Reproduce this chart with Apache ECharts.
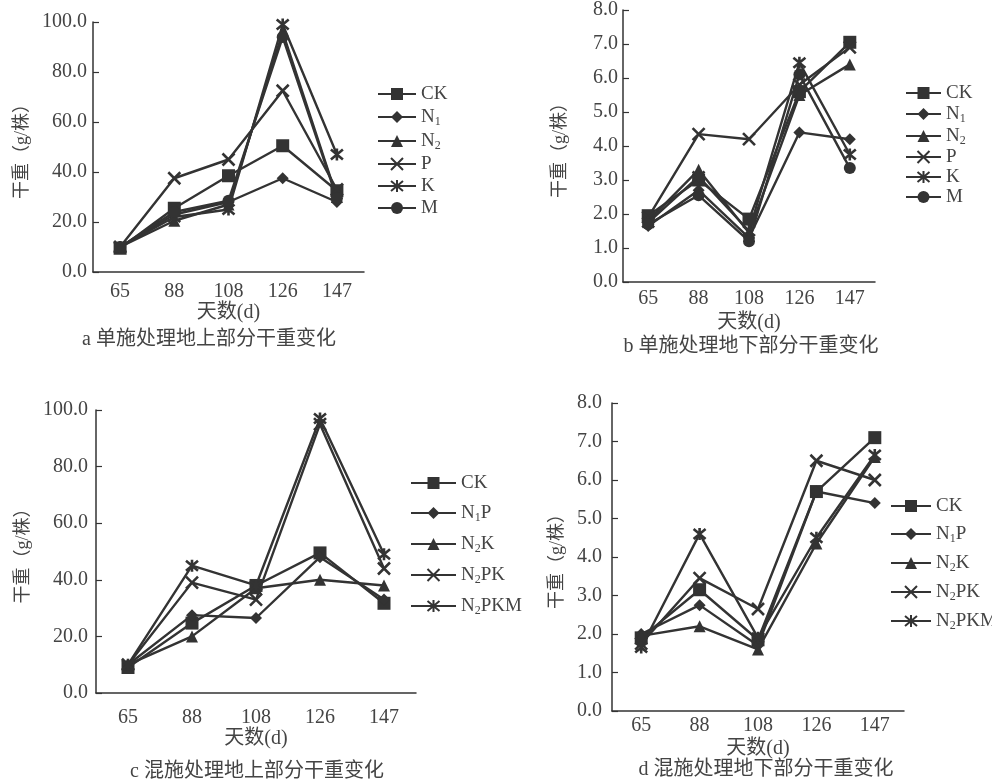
<!DOCTYPE html>
<html><head><meta charset="utf-8">
<script src="https://cdn.jsdelivr.net/npm/echarts@6/dist/echarts.min.js"></script>
<style>html,body{margin:0;padding:0;background:#fff}#c{width:992px;height:781px}</style>
</head><body><div id="c"></div>
<script>
// ---- data ----
const days = ['65', '88', '108', '126', '147'];
const singleNames = ['CK', 'N1', 'N2', 'P', 'K', 'M'];
const mixNames = ['CK', 'N1P', 'N2K', 'N2PK', 'N2PKM'];

// a: single treatment, above-ground dry weight (g/plant)
const aCK = [9.5, 25.5, 38.5, 50.5, 32.5];
const aN1 = [10, 23, 28, 37.5, 28];
const aN2 = [10, 20.5, 27, 96, 30];
const aP  = [10, 37.5, 45, 72.5, 33];
const aK  = [10, 22, 25, 99, 47];
const aM  = [10, 24, 28.5, 94, 29.5];

// b: single treatment, below-ground dry weight
const bCK = [1.95, 3.0, 1.85, 5.6, 7.05];
const bN1 = [1.65, 2.7, 1.3, 4.4, 4.2];
const bN2 = [1.8, 3.3, 1.45, 5.5, 6.4];
const bP  = [1.9, 4.35, 4.2, 5.8, 6.9];
const bK  = [1.75, 3.1, 1.5, 6.45, 3.75];
const bM  = [1.7, 2.55, 1.2, 6.1, 3.35];

// c: mixed treatment, above-ground dry weight
const cCK    = [9, 24.7, 38, 49.5, 31.7];
const cN1P   = [10, 27.5, 26.5, 48, 33];
const cN2K   = [10, 20, 37, 40, 38];
const cN2PK  = [10, 39, 33, 95, 44];
const cN2PKM = [10, 45, 38, 97, 49];

// d: mixed treatment, below-ground dry weight
const dCK    = [1.9, 3.15, 1.85, 5.7, 7.1];
const dN1P   = [2.0, 2.75, 1.7, 5.7, 5.4];
const dN2K   = [1.95, 2.2, 1.6, 4.35, 6.6];
const dN2PK  = [1.75, 3.45, 2.65, 6.5, 6.0];
const dN2PKM = [1.65, 4.6, 1.9, 4.5, 6.65];

const xName = '天数(d)';
const yName = '干重（g/株）';
const captions = ['a 单施处理地上部分干重变化', 'b 单施处理地下部分干重变化',
                  'c 混施处理地上部分干重变化', 'd 混施处理地下部分干重变化'];

// ---- styles ----
const INK = '#333333';
const TXT = '#444444';
const SERIF = 'Liberation Serif, Noto Sans CJK SC, serif';

const XPATH = 'path://M0,0L10,10M10,0L0,10';
const STARPATH = 'path://M0,0L10,10M10,0L0,10M5,-1L5,11';
const markerOf = {
  'CK':   {symbol: 'rect', size: 13},
  'N1':   {symbol: 'diamond', size: 12},
  'N1P':  {symbol: 'diamond', size: 12},
  'N2':   {symbol: 'triangle', size: 12},
  'N2K':  {symbol: 'triangle', size: 12},
  'P':    {symbol: XPATH, size: 12, stroke: true},
  'N2PK': {symbol: XPATH, size: 12, stroke: true},
  'K':    {symbol: STARPATH, size: 12, stroke: true},
  'N2PKM':{symbol: STARPATH, size: 12, stroke: true},
  'M':    {symbol: 'circle', size: 12}
};

const panels = [
  {names: singleNames, data: [aCK, aN1, aN2, aP, aK, aM], max: 100, interval: 20,
   grid: {left: 93, top: 22, width: 271, height: 250},
   yNameGap: 62, yLabelMargin: 6, xLabelMargin: 10, xNameGap: 31,
   legend: {left: 372, top: 79, itemWidth: 38, itemGap: 2},
   cap: [209, 340]},
  {names: singleNames, data: [bCK, bN1, bN2, bP, bK, bM], max: 8, interval: 1,
   grid: {left: 623, top: 2, width: 252, height: 280},
   yNameGap: 54, yLabelMargin: 5, xLabelMargin: 7, xNameGap: 31,
   legend: {left: 900, top: 78, itemWidth: 35, itemGap: 0},
   cap: [751, 347]},
  {names: mixNames, data: [cCK, cN1P, cN2K, cN2PK, cN2PKM], max: 100, interval: 20,
   grid: {left: 96, top: 410, width: 320, height: 283},
   yNameGap: 64, yLabelMargin: 8, xLabelMargin: 15, xNameGap: 35,
   legend: {left: 405, top: 468, itemWidth: 45, itemGap: 9},
   cap: [257, 772]},
  {names: mixNames, data: [dCK, dN1P, dN2K, dN2PK, dN2PKM], max: 8, interval: 1,
   grid: {left: 612, top: 403, width: 292, height: 308},
   yNameGap: 46, yLabelMargin: 10, xLabelMargin: 5, xNameGap: 28,
   legend: {left: 885, top: 491, itemWidth: 40, itemGap: 7},
   cap: [766, 770]}
];

function subFmt(name) {
  return name.replace(/(\d)/g, '{s|$1}');
}

const option = {
  backgroundColor: '#fff',
  animation: false,
  grid: [], xAxis: [], yAxis: [], series: [], legend: []
};

panels.forEach((p, i) => {
  option.grid.push(Object.assign({containLabel: false}, p.grid));
  option.xAxis.push({
    type: 'category', gridIndex: i, data: days, boundaryGap: true,
    name: xName, nameLocation: 'middle', nameGap: p.xNameGap,
    nameTextStyle: {fontFamily: SERIF, fontSize: 20, color: TXT},
    axisLine: {lineStyle: {color: INK, width: 1.5}},
    axisTick: {inside: true, length: 6, lineStyle: {color: INK, width: 1.2}},
    axisLabel: {fontFamily: SERIF, fontSize: 20, color: TXT, margin: p.xLabelMargin},
    splitLine: {show: false}
  });
  option.yAxis.push({
    type: 'value', gridIndex: i, min: 0, max: p.max, interval: p.interval,
    name: yName, nameLocation: 'middle', nameRotate: 90, nameGap: p.yNameGap,
    nameTextStyle: {fontFamily: SERIF, fontSize: 18, color: TXT},
    axisLine: {show: true, lineStyle: {color: INK, width: 1.5}},
    axisTick: {show: true, inside: true, length: 6, lineStyle: {color: INK, width: 1.2}},
    axisLabel: {fontFamily: SERIF, fontSize: 20, color: TXT, margin: p.yLabelMargin,
                formatter: v => v.toFixed(1)},
    splitLine: {show: false}
  });
  p.names.forEach((nm, k) => {
    const m = markerOf[nm];
    option.series.push({
      type: 'line', name: nm, xAxisIndex: i, yAxisIndex: i,
      data: p.data[k],
      symbol: m.symbol, symbolSize: m.size, showAllSymbol: true,
      lineStyle: {color: INK, width: 2.4},
      itemStyle: m.stroke ? {color: INK, borderColor: INK, borderWidth: 2.6}
                          : {color: INK, borderColor: INK, borderWidth: 0},
      emphasis: {disabled: true},
      z: 2
    });
  });
  option.legend.push({
    data: p.names, orient: 'vertical', left: p.legend.left, top: p.legend.top,
    itemWidth: p.legend.itemWidth, itemHeight: 15, itemGap: p.legend.itemGap,
    selectedMode: false,
    formatter: subFmt,
    textStyle: {fontFamily: SERIF, fontSize: 19, color: TXT, lineHeight: 20,
      rich: {s: {fontFamily: SERIF, fontSize: 12, color: TXT, verticalAlign: 'bottom', lineHeight: 22}}}
  });
});

// captions placed below each panel
option.graphic = panels.map((p, i) => ({
  type: 'text', x: p.cap[0], y: p.cap[1],
  style: {text: captions[i], font: '20px ' + SERIF, fill: TXT, align: 'center', verticalAlign: 'middle'}
}));

const chart = echarts.init(document.getElementById('c'), null, {renderer: 'canvas'});
chart.setOption(option);
</script></body></html>
